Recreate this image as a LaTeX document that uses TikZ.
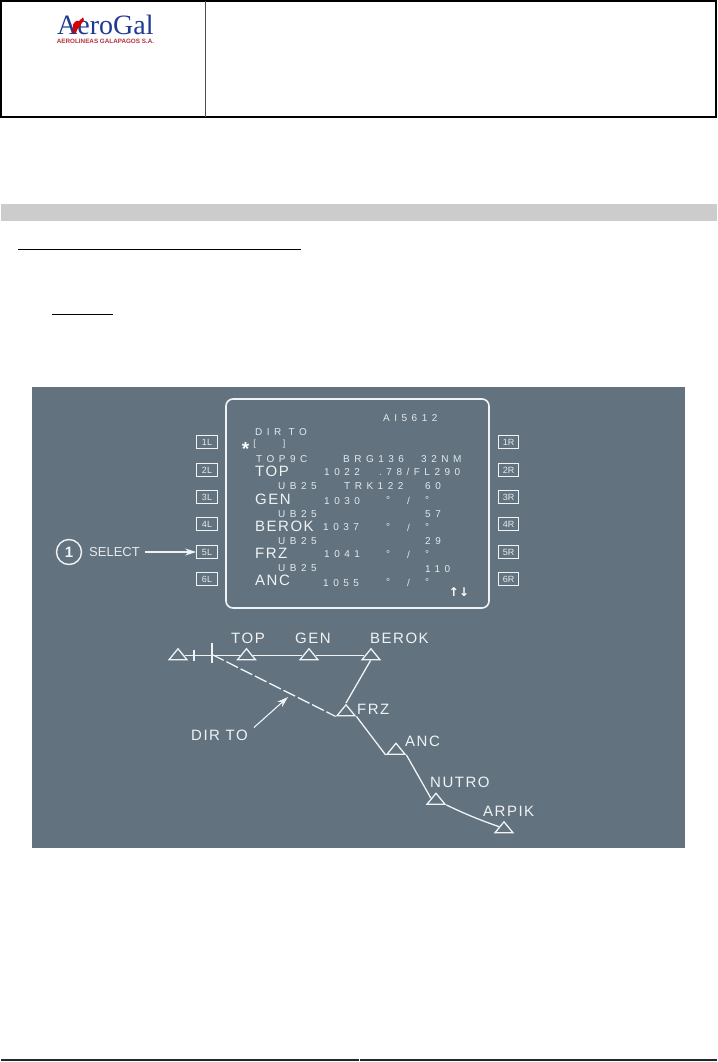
\documentclass[tikz,border=0pt]{standalone}
\usepackage{fontspec}
\setmainfont{Liberation Sans}
\newfontfamily\logofont{Liberation Serif}
\newfontfamily\arrowfont{DejaVu Sans}
\newfontfamily\smallfont[LetterSpace=45]{Liberation Sans}
\newfontfamily\bigfont[LetterSpace=10]{Liberation Sans}
\usetikzlibrary{arrows.meta,shapes.geometric}
\definecolor{panelgrey}{HTML}{62727F}
\definecolor{bandgrey}{HTML}{CCCCCC}
\definecolor{fmsline}{HTML}{F0F3F4}
\definecolor{fmstext}{HTML}{E6EAEC}
\definecolor{logoblue}{HTML}{1F3A93}
\definecolor{logored}{HTML}{B5303F}

\begin{document}
\begin{tikzpicture}[
    scrsmall/.style={anchor=west,inner sep=0pt,text=fmstext,font=\smallfont\fontsize{10}{10}\selectfont},
    scrbig/.style={anchor=west,inner sep=0pt,text=fmsline,font=\bigfont\fontsize{15}{15}\selectfont},
    keybox/.style={draw=fmsline,line width=1.3pt,fill=panelgrey,text=fmstext,inner sep=0pt,
      minimum width=20.5pt,minimum height=12.5pt,font=\fontsize{9}{9}\selectfont},
    wpoint/.style={isosceles triangle,isosceles triangle stretches,shape border rotate=90,draw=fmsline,
      line width=1.3pt,inner sep=0pt,minimum width=18pt,minimum height=11pt},
    leg/.style={draw=fmsline,line width=1.3pt},
    tickmark/.style={draw=fmsline,line width=1.3pt},
    pointer/.style={draw=fmsline,line width=1.1pt,-{Stealth[length=11pt,width=7pt]}}
  ]
  \useasboundingbox (0pt,0pt) rectangle (717pt,-1062pt);

  %% page header and rules
  \draw[line width=2pt] (1pt,-1pt) rectangle (716pt,-117pt);
  \draw[line width=1.5pt,black!70] (205.5pt,-1pt) -- (205.5pt,-117pt);
  \fill[bandgrey] (1pt,-204pt) rectangle (717pt,-221pt);
  \draw[line width=1pt] (18pt,-249.5pt) -- (301pt,-249.5pt);
  \draw[line width=1pt] (52pt,-314pt) -- (113pt,-314pt);
  \draw[line width=1.4pt,black!85] (1pt,-1060pt) -- (358.5pt,-1060pt);
  \draw[line width=1.4pt,black!85] (359.5pt,-1060pt) -- (717pt,-1060pt);

  %% logo
  \node[anchor=base west,inner sep=0pt,text=logoblue] (logoname) at (57pt,-34.5pt)
    {\logofont\fontsize{28}{28}\selectfont AeroGal};
  \node[anchor=center,inner sep=0pt,text=logored] (logosub) at (105.5pt,-41.5pt)
    {\fontsize{6.3}{6.3}\selectfont\bfseries AEROLINEAS GALAPAGOS S.A.};
  \fill[red!85!black] (73pt,-28pt) .. controls (72pt,-22pt) and (77pt,-20pt) .. (79pt,-21pt)
    -- (83pt,-17.5pt) -- (84pt,-20pt) -- (81pt,-24pt) .. controls (80pt,-27pt) and (77pt,-28pt) .. (76pt,-33pt)
    -- (73pt,-33pt) -- cycle;

  %% panel and screen
  \fill[panelgrey] (32pt,-387pt) rectangle (685pt,-848pt);
  \draw[fmsline,line width=1.6pt,rounded corners=7pt] (226pt,-399pt) rectangle (489pt,-608pt);

  \node[keybox] (key1L) at (207pt,-442pt) {1L};
  \node[keybox] (key2L) at (207pt,-470pt) {2L};
  \node[keybox] (key3L) at (207pt,-497pt) {3L};
  \node[keybox] (key4L) at (207pt,-524pt) {4L};
  \node[keybox] (key5L) at (207pt,-552pt) {5L};
  \node[keybox] (key6L) at (207pt,-579pt) {6L};
  \node[keybox] (key1R) at (508.5pt,-442pt) {1R};
  \node[keybox] (key2R) at (508.5pt,-470pt) {2R};
  \node[keybox] (key3R) at (508.5pt,-497pt) {3R};
  \node[keybox] (key4R) at (508.5pt,-524pt) {4R};
  \node[keybox] (key5R) at (508.5pt,-552pt) {5R};
  \node[keybox] (key6R) at (508.5pt,-579pt) {6R};

  %% screen lines
  \node[scrsmall] (flightno) at (383pt,-418pt) {AI5612};
  \node[scrsmall] (dirtitle) at (255pt,-432pt) {DIR TO};
  \node[anchor=center,inner sep=0pt,text=white,font=\bfseries\fontsize{19}{19}\selectfont] (star) at (245.5pt,-449pt) {*};
  \node[anchor=center,inner sep=0pt,text=fmstext,font=\fontsize{9}{9}\selectfont] (brackl) at (254.5pt,-444pt) {[};
  \node[anchor=center,inner sep=0pt,text=fmstext,font=\fontsize{9}{9}\selectfont] (brackr) at (284pt,-444pt) {]};
  \node[scrsmall] (fromwp) at (256pt,-459pt) {TOP9C};
  \node[scrsmall] (brg) at (343pt,-459pt) {BRG136};
  \node[scrsmall] (dist) at (421pt,-459pt) {32NM};

  \node[scrbig] (rowtop) at (255pt,-471pt) {TOP};
  \node[scrsmall] (timetop) at (324pt,-472pt) {1022};
  \node[scrsmall] (cruise) at (379pt,-472pt) {.78/FL290};
  \node[scrsmall] (awyone) at (278pt,-486pt) {UB25};
  \node[scrsmall] (trk) at (344pt,-486pt) {TRK122};
  \node[scrsmall] (distone) at (425pt,-486pt) {60};

  \node[scrbig] (rowgen) at (255pt,-499pt) {GEN};
  \node[scrsmall] (timegen) at (324pt,-501pt) {1030};
  \node[scrsmall] (speedgen) at (386pt,-500pt) {°};
  \node[scrsmall] (slashgen) at (407pt,-501pt) {/};
  \node[scrsmall] (altgen) at (425pt,-500pt) {°};
  \node[scrsmall] (awytwo) at (278pt,-514pt) {UB25};
  \node[scrsmall] (disttwo) at (425pt,-514pt) {57};

  \node[scrbig] (rowberok) at (255pt,-526pt) {BEROK};
  \node[scrsmall] (timeberok) at (323pt,-527pt) {1037};
  \node[scrsmall] (speedberok) at (386pt,-527pt) {°};
  \node[scrsmall] (slashberok) at (407pt,-528pt) {/};
  \node[scrsmall] (altberok) at (425pt,-527pt) {°};
  \node[scrsmall] (awythree) at (278pt,-541pt) {UB25};
  \node[scrsmall] (distthree) at (425pt,-541pt) {29};

  \node[scrbig] (rowfrz) at (255pt,-553pt) {FRZ};
  \node[scrsmall] (timefrz) at (324pt,-554pt) {1041};
  \node[scrsmall] (speedfrz) at (386pt,-554pt) {°};
  \node[scrsmall] (slashfrz) at (407pt,-555pt) {/};
  \node[scrsmall] (altfrz) at (425pt,-554pt) {°};
  \node[scrsmall] (awyfour) at (278pt,-568pt) {UB25};
  \node[scrsmall] (distfour) at (425pt,-569pt) {110};

  \node[scrbig] (rowanc) at (255pt,-580pt) {ANC};
  \node[scrsmall] (timeanc) at (323pt,-583pt) {1055};
  \node[scrsmall] (speedanc) at (386pt,-582pt) {°};
  \node[scrsmall] (slashanc) at (407pt,-583pt) {/};
  \node[scrsmall] (altanc) at (425pt,-582pt) {°};
  \node[anchor=center,inner sep=0pt,text=white] (pagearrows) at (459pt,-592pt)
    {\arrowfont\bfseries\fontsize{12}{12}\selectfont ↑↓};

  %% select callout
  \node[draw=fmsline,line width=1.4pt,circle,minimum size=25pt,inner sep=0pt,text=fmsline,
    font=\bfseries\fontsize{15}{15}\selectfont] (stepone) at (69pt,-552pt) {1};
  \node[anchor=west,inner sep=0pt,text=fmstext,font=\fontsize{13}{13}\selectfont] (selectlabel) at (89pt,-552pt) {SELECT};
  \draw[pointer] (selectlabel.east) ++(5pt,0pt) coordinate (selectstart) (selectstart) -- (key5L.west);

  %% route
  \node[wpoint] (wpprev) at (178pt,-655.5pt) {};
  \node[wpoint] (wptop) at (246.5pt,-655.5pt) {};
  \node[wpoint] (wpgen) at (309pt,-655.5pt) {};
  \node[wpoint] (wpberok) at (371pt,-655.5pt) {};
  \node[wpoint] (wpfrz) at (346pt,-711.5pt) {};
  \node[wpoint] (wpanc) at (396pt,-750pt) {};
  \node[wpoint] (wpnutro) at (436pt,-800pt) {};
  \node[wpoint] (wparpik) at (504pt,-828.5pt) {};

  \coordinate (ticksmall) at (194pt,-654.5pt);
  \coordinate (tickbig) at (212pt,-654.5pt);
  \draw[leg] (wpprev) -- (wptop);
  \draw[leg] (wptop) -- (wpgen);
  \draw[leg] (wpgen) -- (wpberok);
  \draw[tickmark] (ticksmall) +(0pt,5pt) -- +(0pt,-6pt);
  \draw[tickmark,line width=1.6pt] (tickbig) +(0pt,12pt) -- +(0pt,-8pt);
  \draw[leg,dash pattern=on 13pt off 3pt] (tickbig) -- (wpfrz.left corner);
  \draw[leg] (wpberok.-95) -- (wpfrz.apex);
  \draw[leg] (wpfrz.right corner) -- (wpanc.left corner);
  \draw[leg] (wpanc.right corner) -- (wpnutro.160);
  \draw[leg] (wpnutro.right corner) .. controls (465pt,-814pt) and (480pt,-820pt) .. (wparpik.160);

  \node[scrbig] (labeltop) at (231pt,-638pt) {TOP};
  \node[scrbig] (labelgen) at (295pt,-638pt) {GEN};
  \node[scrbig] (labelberok) at (370pt,-638pt) {BEROK};
  \node[scrbig] (labelfrz) at (357pt,-709pt) {FRZ};
  \node[scrbig] (labelanc) at (405pt,-741pt) {ANC};
  \node[scrbig] (labelnutro) at (430pt,-782pt) {NUTRO};
  \node[scrbig] (labelarpik) at (483pt,-811pt) {ARPIK};
  \node[scrbig] (labeldir) at (191pt,-735pt) {DIR TO};
  \coordinate (dirtip) at (288pt,-697pt);
  \draw[pointer] (labeldir.north east) ++(6pt,2pt) coordinate (dirstart) (dirstart) -- (dirtip);

\end{tikzpicture}
\end{document}
